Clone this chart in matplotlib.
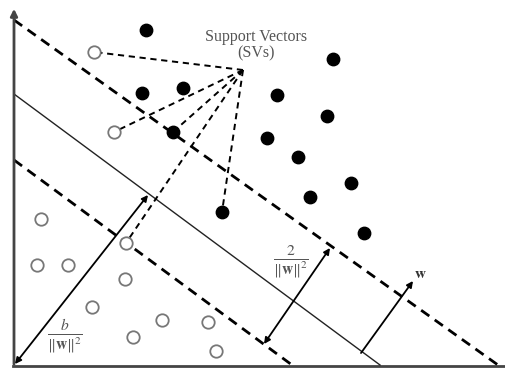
import numpy as np
import matplotlib.pyplot as plt

plt.rcParams['font.family'] = ['Liberation Serif', 'DejaVu Serif']
plt.rcParams['mathtext.fontset'] = 'stix'

# class +1 (filled) and class -1 (open) points, picture coordinates
pos_x = [146, 142, 183, 173, 333, 277, 327, 267, 298, 351, 310, 364, 222]
pos_y = [30, 93, 88, 132, 59, 95, 116, 138, 157, 183, 197, 233, 212]
neg_x = [94, 114, 126, 41, 37, 68, 125, 92, 162, 208, 133, 216]
neg_y = [52, 132, 243, 219, 265, 265, 279, 307, 320, 322, 337, 351]

# support vectors linked to the label
sv_x = [94, 114, 173, 222, 126]
sv_y = [52, 132, 132, 212, 243]
hub = (243, 70)

# margin lines (start, end)
upper = [(14, 20), (498, 365)]
middle = [(14, 94), (380, 365)]
lower = [(14, 160), (292, 365)]

fig = plt.figure(figsize=(5.05, 3.71), dpi=100)
ax = fig.add_axes([0, 0, 1, 1])
ax.set_xlim(0, 505)
ax.set_ylim(371, 0)
ax.axis('off')

axc = '#444444'
# axes
ax.annotate('', xy=(14, 6), xytext=(14, 367),
            arrowprops=dict(arrowstyle='-|>', color=axc, lw=2, mutation_scale=10))
ax.plot([13, 505], [366, 366], color=axc, lw=2)

# lines
ax.plot([upper[0][0], upper[1][0]], [upper[0][1], upper[1][1]], color='black', lw=2,
        dashes=(3.6, 2.4))
ax.plot([lower[0][0], lower[1][0]], [lower[0][1], lower[1][1]], color='black', lw=2,
        dashes=(3.6, 2.4))
ax.plot([middle[0][0], middle[1][0]], [middle[0][1], middle[1][1]], color='#222222', lw=1)

# dashed links to support vectors
for x, y in zip(sv_x, sv_y):
    ax.plot([hub[0], x], [hub[1], y], color='black', lw=1.4, dashes=(3.2, 2.4))

ax.scatter(pos_x, pos_y, s=80, color='black', zorder=3)
ax.scatter(neg_x, neg_y, s=80, facecolor='white', edgecolor='#777777', lw=1.3, zorder=3)

# arrows
arr = dict(arrowstyle='<|-|>', color='black', lw=1.3, mutation_scale=9, shrinkA=0, shrinkB=0)
ax.annotate('', xy=(148, 195), xytext=(15, 364), arrowprops=arr)
ax.annotate('', xy=(330, 248), xytext=(264, 344), arrowprops=arr)
ax.annotate('', xy=(413, 281), xytext=(361, 353),
            arrowprops=dict(arrowstyle='-|>', color='black', lw=1.3, mutation_scale=9,
                            shrinkA=0, shrinkB=0))

tc = '#555555'
ax.text(256, 45, 'Support Vectors\n(SVs)', ha='center', va='center', fontsize=11.5,
        color=tc, linespacing=1.05)
ax.text(291, 262, r'$\frac{2}{\Vert\mathbf{w}\Vert^{2}}$', ha='center', va='center',
        fontsize=16, color=tc)
ax.text(65, 337, r'$\frac{b}{\Vert\mathbf{w}\Vert^{2}}$', ha='center', va='center',
        fontsize=16, color=tc)
ax.text(420, 275, r'$\mathbf{w}$', ha='center', va='center', fontsize=11, color='#333333')

fig.savefig('out.png', dpi=100)
